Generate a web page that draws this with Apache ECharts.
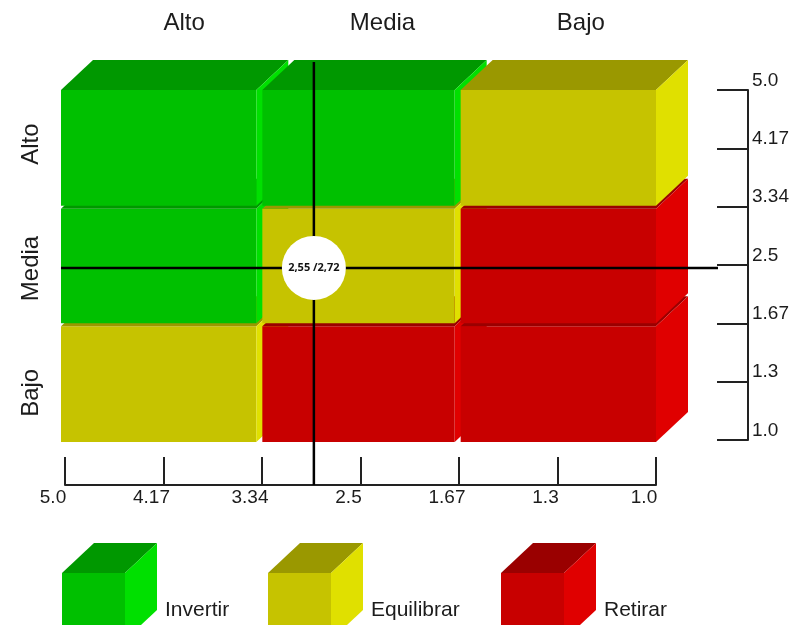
<!DOCTYPE html>
<html>
<head>
<meta charset="utf-8">
<script src="https://cdn.jsdelivr.net/npm/echarts@6/dist/echarts.min.js"></script>
<style>
  html, body { margin: 0; padding: 0; background: #ffffff; }
  #chart { width: 792px; height: 625px; }
</style>
</head>
<body>
<div id="chart"></div>
<script>
// Levels of both matrix dimensions (columns left to right, rows top to bottom)
const levels = ['Alto', 'Media', 'Bajo'];

// Strategy categories
const decisions = ['Invertir', 'Equilibrar', 'Retirar'];

// Strategy per cell, one array per row (columns Alto, Media, Bajo)
const rowAlto  = ['Invertir',   'Invertir',   'Equilibrar'];
const rowMedia = ['Invertir',   'Equilibrar', 'Retirar'];
const rowBajo  = ['Equilibrar', 'Retirar',    'Retirar'];

// Scale labels of the two rulers
const bottomTicks = ['5.0', '4.17', '3.34', '2.5', '1.67', '1.3', '1.0'];
const rightTicks  = ['1.0', '1.3', '1.67', '2.5', '3.34', '4.17', '5.0'];

// Evaluated position
const pointX = 2.55;
const pointY = 2.72;

// ---------------------------------------------------------------------------
const FONT = '"Liberation Sans", Arial, sans-serif';
const TEXT = '#1c1c1c';
const AXIS = '#222222';

// Face colours of each strategy box: front, top, side
const palette = {
  'Invertir':   { front: '#00c000', top: '#009800', side: '#00e000' },
  'Equilibrar': { front: '#c6c300', top: '#9a9800', side: '#e0e000' },
  'Retirar':    { front: '#c80000', top: '#9a0000', side: '#e00000' }
};

// Extrusion of the boxes
const DX = 32, DY = 30;
const GAP_X = 3, GAP_Y = 1.5;

// Cells, painted from the bottom row up so the upper boxes overlap correctly
const rows = [rowAlto, rowMedia, rowBajo];
const cellData = [];
for (let r = rows.length - 1; r >= 0; r--) {
  rows[r].forEach(function (name, c) {
    cellData.push([c, r, decisions.indexOf(name)]);
  });
}

function boxFaces(x0, y0, x1, y1, colors) {
  return [
    { type: 'rect', shape: { x: x0, y: y0, width: x1 - x0, height: y1 - y0 },
      style: { fill: colors.front } },
    { type: 'polygon', shape: { points: [[x0, y0], [x0 + DX, y0 - DY], [x1 + DX, y0 - DY], [x1, y0]] },
      style: { fill: colors.top } },
    { type: 'polygon', shape: { points: [[x1, y0], [x1 + DX, y0 - DY], [x1 + DX, y1 - DY], [x1, y1]] },
      style: { fill: colors.side } }
  ];
}

function renderCell(params, api) {
  const col = api.value(0), row = api.value(1);
  const colors = palette[decisions[api.value(2)]];
  const p0 = api.coord([col, row]);
  const p1 = api.coord([col + 1, row + 1]);
  const x0 = p0[0] + (col > 0 ? GAP_X : 0);
  const x1 = p1[0] - (col < levels.length - 1 ? GAP_X : 0);
  const y0 = p0[1] + (row > 0 ? GAP_Y : 0);
  const y1 = p1[1] - (row < levels.length - 1 ? GAP_Y : 0);
  return { type: 'group', children: boxFaces(x0, y0, x1, y1, colors) };
}

// Bottom ruler baseline and the right ruler column
const RULER_BOTTOM_Y = 485;
const RULER_RIGHT_X = 749;

function renderCross(params, api) {
  const c = api.coord([api.value(0), api.value(1)]);
  const cs = params.coordSys;
  const lineStyle = { stroke: '#000000', lineWidth: 2.5 };
  return {
    type: 'group',
    children: [
      { type: 'line', shape: { x1: c[0], y1: cs.y - DY + 2, x2: c[0], y2: RULER_BOTTOM_Y }, style: lineStyle },
      { type: 'line', shape: { x1: cs.x, y1: c[1], x2: RULER_RIGHT_X - 31, y2: c[1] }, style: lineStyle }
    ]
  };
}

function fmt(v) { return v.toFixed(2).replace('.', ','); }

// Legend cubes with their captions
const legendLeft = [62, 268, 501];
const legendGraphics = [];
decisions.forEach(function (name, i) {
  const x0 = legendLeft[i], y0 = 573, x1 = x0 + 63, y1 = 640;
  legendGraphics.push({
    type: 'group',
    children: boxFaces(x0, y0, x1, y1, palette[name]).concat([{
      type: 'text',
      style: { x: x1 + DX + 8, y: 621, text: name, fill: TEXT, font: '21px ' + FONT, textVerticalAlign: 'bottom' }
    }])
  });
});

const chart = echarts.init(document.getElementById('chart'), null, { renderer: 'canvas' });

const hiddenValue = function (grid, min, max, extra) {
  return Object.assign({ type: 'value', gridIndex: grid, min: min, max: max, show: false }, extra || {});
};

chart.setOption({
  backgroundColor: '#ffffff',
  animation: false,
  grid: [
    // matrix area
    { left: 61, right: 136, top: 90, bottom: 183 },
    // band labels (shifted right by half the extrusion)
    { left: 85, right: 112, top: 82, bottom: 170 },
    // bottom ruler
    { left: 65, right: 136, top: 90, bottom: 625 - RULER_BOTTOM_Y },
    // right ruler
    { left: 65, right: 792 - RULER_RIGHT_X, top: 90, bottom: 185 }
  ],
  xAxis: [
    hiddenValue(0, 0, levels.length),
    hiddenValue(0, 0, 6),
    {
      type: 'category', gridIndex: 1, position: 'top', data: levels,
      axisLine: { show: false }, axisTick: { show: false },
      axisLabel: { fontSize: 24, fontFamily: FONT, color: TEXT, margin: 47 }
    },
    {
      type: 'category', gridIndex: 2, position: 'bottom', data: bottomTicks, boundaryGap: false,
      axisLine: { onZero: false, lineStyle: { color: AXIS, width: 2 } },
      axisTick: { inside: true, length: 28, lineStyle: { color: AXIS, width: 2 } },
      axisLabel: { fontSize: 19, fontFamily: FONT, color: TEXT, margin: 3, padding: [0, 24, 0, 0] }
    },
    hiddenValue(3, 0, 1)
  ],
  yAxis: [
    hiddenValue(0, 0, levels.length, { inverse: true }),
    hiddenValue(0, 0, 5.5),
    {
      type: 'category', gridIndex: 1, position: 'left', data: levels, inverse: true,
      axisLine: { show: false }, axisTick: { show: false },
      axisLabel: { fontSize: 24, fontFamily: FONT, color: TEXT, rotate: 90, margin: 42 }
    },
    hiddenValue(2, 0, 1),
    {
      type: 'category', gridIndex: 3, position: 'right', data: rightTicks, boundaryGap: false,
      axisLine: { onZero: false, lineStyle: { color: AXIS, width: 2 } },
      axisTick: { inside: true, length: 31, lineStyle: { color: AXIS, width: 2 } },
      axisLabel: { fontSize: 19, fontFamily: FONT, color: TEXT, margin: 4, verticalAlign: 'bottom' }
    }
  ],
  series: [
    {
      type: 'custom', name: 'matriz', xAxisIndex: 0, yAxisIndex: 0,
      renderItem: renderCell, data: cellData, z: 1, silent: true
    },
    {
      type: 'custom', name: 'cruce', xAxisIndex: 1, yAxisIndex: 1,
      renderItem: renderCross, data: [[pointX, pointY]], z: 3, silent: true
    },
    {
      type: 'scatter', name: 'posicion', xAxisIndex: 1, yAxisIndex: 1,
      data: [[pointX, pointY]], symbol: 'circle', symbolSize: 64, z: 4,
      itemStyle: { color: '#ffffff', opacity: 1 },
      label: {
        show: true, position: 'inside', color: '#111111', fontSize: 11, fontWeight: 'bold',
        fontFamily: '"Open Sans", "Noto Sans", sans-serif',
        formatter: function (p) { return fmt(p.value[0]) + ' /' + fmt(p.value[1]); }
      }
    }
  ],
  graphic: legendGraphics
});
</script>
</body>
</html>
